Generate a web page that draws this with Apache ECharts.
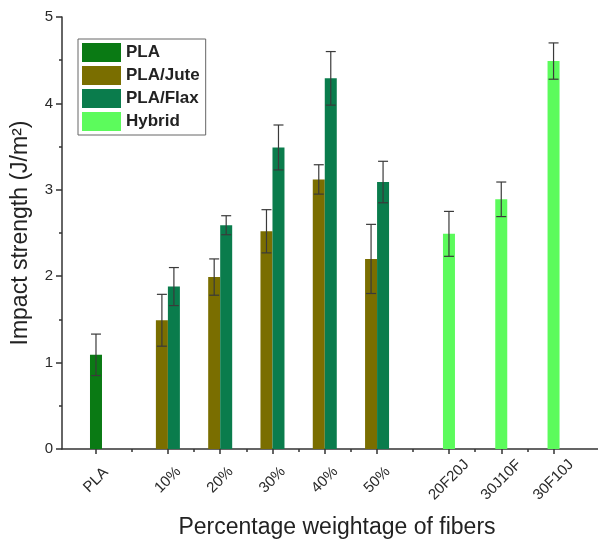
<!DOCTYPE html>
<html>
<head>
<meta charset="utf-8">
<script src="https://cdn.jsdelivr.net/npm/echarts@6/dist/echarts.min.js"></script>
<style>html,body{margin:0;padding:0;background:#fff;}#c{width:598px;height:542px;}</style>
</head>
<body>
<div id="c"></div>
<script>
// Category labels and their positions along the x scale
const tickLabels = ['PLA', '10%', '20%', '30%', '40%', '50%', '20F20J', '30J10F', '30F10J'];
const tickPos = [0, 1.375, 2.375, 3.375, 4.375, 5.375, 6.75, 7.75, 8.75];
const minorPos = [0.6875, 1.875, 2.875, 3.875, 4.875, 6.0625, 7.25, 8.25];

// Series values [x position, mean], errors
const plaX = [0];
const plaVal = [1.09];
const plaErr = [0.24];

const juteX = [1.375, 2.375, 3.375, 4.375, 5.375];
const juteVal = [1.49, 1.99, 2.52, 3.12, 2.20];
const juteErr = [0.30, 0.21, 0.25, 0.17, 0.40];

const flaxX = [1.375, 2.375, 3.375, 4.375, 5.375];
const flaxVal = [1.88, 2.59, 3.49, 4.29, 3.09];
const flaxErr = [0.22, 0.11, 0.26, 0.31, 0.24];

const hybX = [6.75, 7.75, 8.75];
const hybVal = [2.49, 2.89, 4.49];
const hybErr = [0.26, 0.20, 0.21];

const colors = { PLA: '#0a7a14', Jute: '#7a6e00', Flax: '#0a7c4c', Hybrid: '#5cfb5c' };
const BW = 12;

function pairs(xs, ys) { return xs.map((x, i) => [x, ys[i]]); }
function triples(xs, ys, es) { return xs.map((x, i) => [x, ys[i], es[i]]); }

function errSeries(xs, ys, es, offset) {
  return {
    type: 'custom',
    xAxisIndex: 0,
    yAxisIndex: 0,
    z: 5,
    silent: true,
    data: triples(xs, ys, es),
    renderItem: function (params, api) {
      const x = api.value(0), y = api.value(1), e = api.value(2);
      const top = api.coord([x, y + e]);
      const bot = api.coord([x, y - e]);
      const cx = top[0] + offset;
      const cap = 5;
      const st = { stroke: '#3a3a3a', lineWidth: 1.2 };
      return {
        type: 'group',
        children: [
          { type: 'line', shape: { x1: cx, y1: top[1], x2: cx, y2: bot[1] }, style: st },
          { type: 'line', shape: { x1: cx - cap, y1: top[1], x2: cx + cap, y2: top[1] }, style: st },
          { type: 'line', shape: { x1: cx - cap, y1: bot[1], x2: cx + cap, y2: bot[1] }, style: st }
        ]
      };
    }
  };
}

function labelFor(v) {
  for (let i = 0; i < tickPos.length; i++) if (Math.abs(tickPos[i] - v) < 1e-6) return tickLabels[i];
  return '';
}

const chart = echarts.init(document.getElementById('c'), null, { renderer: 'canvas' });
const font = 'Arial, "Liberation Sans", sans-serif';
const xMin = -0.65, xMax = 9.6;

chart.setOption({
  animation: false,
  backgroundColor: '#fff',
  grid: { left: 62, right: 0, top: 17, bottom: 93, containLabel: false, outerBoundsMode: 'none' },
  legend: {
    data: ['PLA', 'PLA/Jute', 'PLA/Flax', 'Hybrid'],
    orient: 'vertical',
    left: 78, top: 39,
    itemWidth: 39, itemHeight: 19, itemGap: 4,
    padding: [4, 6, 4, 4],
    borderColor: '#666', borderWidth: 1,
    icon: 'rect',
    textStyle: { fontFamily: font, fontSize: 17, fontWeight: 'bold', color: '#222' }
  },
  xAxis: [
    {
      type: 'value', min: xMin, max: xMax,
      name: 'Percentage weightage of fibers',
      nameLocation: 'middle', nameGap: 67,
      nameTextStyle: { fontFamily: font, fontSize: 23, color: '#222', padding: [0, 0, 0, 14] },
      axisLine: { show: true, onZero: false, lineStyle: { color: '#333', width: 1.5 } },
      axisTick: { show: true, length: 5, customValues: tickPos, lineStyle: { color: '#333', width: 1.5 } },
      axisLabel: {
        show: true, customValues: tickPos, rotate: 45, margin: 31,
        align: 'center', verticalAlign: 'middle',
        fontFamily: font, fontSize: 15, color: '#2a2a2a',
        formatter: function (v) { return labelFor(v); }
      },
      splitLine: { show: false }
    },
    {
      type: 'value', min: xMin, max: xMax, position: 'bottom',
      axisLine: { show: false, onZero: false },
      axisTick: { show: true, length: 3, customValues: minorPos, lineStyle: { color: '#333', width: 1.5 } },
      axisLabel: { show: false },
      splitLine: { show: false }
    }
  ],
  yAxis: {
    type: 'value', min: 0, max: 5, interval: 1,
    name: 'Impact strength (J/m²)',
    nameLocation: 'middle', nameGap: 30,
    nameTextStyle: { fontFamily: font, fontSize: 23, color: '#222' },
    axisLine: { show: true, onZero: false, lineStyle: { color: '#333', width: 1.5 } },
    axisTick: { show: true, length: 6, lineStyle: { color: '#333', width: 1.5 } },
    minorTick: { show: true, splitNumber: 2, length: 3, lineStyle: { color: '#333', width: 1.5 } },
    axisLabel: { fontFamily: font, fontSize: 15, color: '#2a2a2a', margin: 9 },
    splitLine: { show: false }
  },
  series: [
    { name: 'PLA', type: 'bar', xAxisIndex: 0, barWidth: BW, barGap: '-100%',
      itemStyle: { color: colors.PLA }, data: pairs(plaX, plaVal) },
    { name: 'Hybrid', type: 'bar', xAxisIndex: 0, barWidth: BW, barGap: '-100%',
      itemStyle: { color: colors.Hybrid }, data: pairs(hybX, hybVal) },
    { name: 'PLA/Jute', type: 'bar', xAxisIndex: 1, barWidth: BW, barGap: 0,
      itemStyle: { color: colors.Jute }, data: pairs(juteX, juteVal) },
    { name: 'PLA/Flax', type: 'bar', xAxisIndex: 1, barWidth: BW, barGap: 0,
      itemStyle: { color: colors.Flax }, data: pairs(flaxX, flaxVal) },
    errSeries(plaX, plaVal, plaErr, 0),
    errSeries(hybX, hybVal, hybErr, 0),
    errSeries(juteX, juteVal, juteErr, -BW / 2),
    errSeries(flaxX, flaxVal, flaxErr, BW / 2)
  ]
});
</script>
</body>
</html>
